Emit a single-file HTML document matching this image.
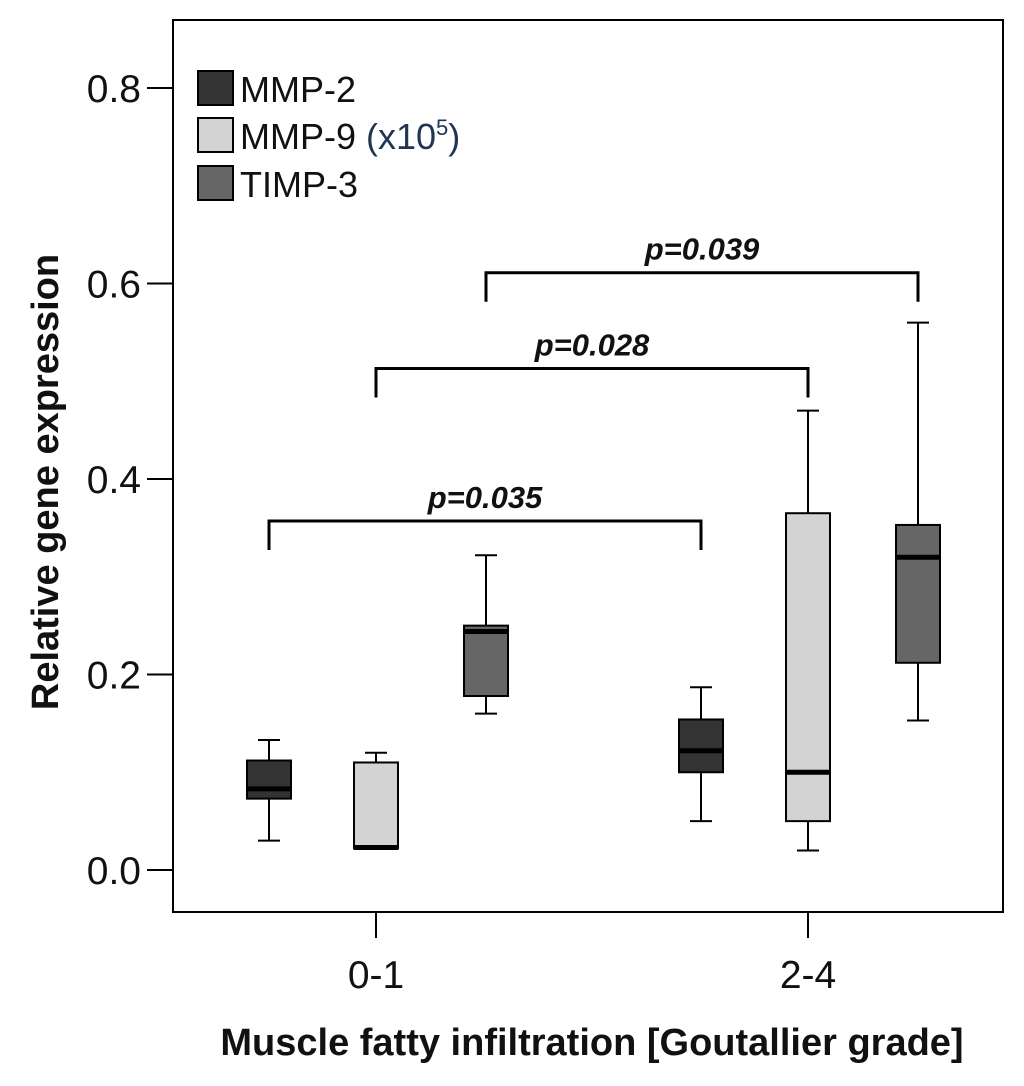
<!DOCTYPE html>
<html><head><meta charset="utf-8"><style>
html,body{margin:0;padding:0;background:#fff;}
svg{display:block;font-family:"Liberation Sans",sans-serif;}
</style></head><body>
<svg id="chart" width="1024" height="1086" viewBox="0 0 1024 1086" xmlns="http://www.w3.org/2000/svg">
<rect x="173" y="20" width="830" height="892" fill="#fff" stroke="#000" stroke-width="2"/>
<g id="yaxis"></g>
<g id="xaxis"></g>
<g id="boxes"></g>
<g id="brackets"></g>
<g>
  <rect x="198" y="71" width="35" height="34" fill="#333" stroke="#000" stroke-width="2"/>
  <text x="240" y="102" font-size="36" fill="#111">MMP-2</text>
  <rect x="198" y="118" width="35" height="34" fill="#d3d3d3" stroke="#000" stroke-width="2"/>
  <text x="240" y="149" font-size="36" fill="#111">MMP-9 <tspan fill="#1f3550">(x10<tspan font-size="22" dy="-14">5</tspan><tspan dy="14">)</tspan></tspan></text>
  <rect x="198" y="166" width="35" height="34" fill="#666" stroke="#000" stroke-width="2"/>
  <text x="240" y="197" font-size="36" fill="#111">TIMP-3</text>
</g>
<text transform="translate(58,482) rotate(-90)" text-anchor="middle" font-size="38" font-weight="bold" fill="#111">Relative gene expression</text>
<text x="592" y="1055" text-anchor="middle" font-size="38" font-weight="bold" fill="#111">Muscle fatty infiltration [Goutallier grade]</text>
</svg>
<script>
const yTicks=[0.0,0.2,0.4,0.6,0.8];
const categories=["0-1","2-4"];
const seriesNames=["MMP-2","MMP-9","TIMP-3"];
// [low whisker, Q1, median, Q3, high whisker] per category
const mmp2=[[0.03,0.073,0.083,0.112,0.133],[0.05,0.1,0.122,0.154,0.187]];
const mmp9=[[0.022,0.022,0.023,0.11,0.12],[0.02,0.05,0.1,0.365,0.47]];
const timp3=[[0.16,0.178,0.244,0.25,0.322],[0.153,0.212,0.32,0.353,0.56]];
const bracketFrom=[[0,0],[1,0],[2,0]];
const bracketTo=[[0,1],[1,1],[2,1]];
const bracketLevel=[0.357,0.513,0.611];
const bracketLabels=["p=0.035","p=0.028","p=0.039"];

const NS="http://www.w3.org/2000/svg";
const y=v=>870-v*977.5;
const catX=i=>376+i*432;
const offs=[-107,0,110];
const bx=(s,c)=>catX(c)+offs[s];
const colors=["#333","#d3d3d3","#666"];
const series=[mmp2,mmp9,timp3];
function mk(tag,attrs,parent){const e=document.createElementNS(NS,tag);for(const k in attrs)e.setAttribute(k,attrs[k]);parent.appendChild(e);return e;}

const ya=document.getElementById('yaxis');
mk('line',{x1:173,y1:y(0.8),x2:173,y2:y(0),stroke:'#000','stroke-width':2},ya);
yTicks.forEach(v=>{
  const l=mk('line',{x1:147,x2:173,y1:y(v),y2:y(v),stroke:'#000','stroke-width':2},ya);
  
  
  const t=mk('text',{x:141,y:y(v)+14,'text-anchor':'end','font-size':39,fill:'#111'},ya);
  t.textContent=v.toFixed(1);
  
  
});
const xa=document.getElementById('xaxis');
categories.forEach((c,i)=>{
  const l=mk('line',{x1:catX(i),x2:catX(i),y1:912,y2:938,stroke:'#000','stroke-width':2},xa);
  
  
  const t=mk('text',{x:catX(i),y:988,'text-anchor':'middle','font-size':39,fill:'#111'},xa);
  t.textContent=c;
  
  
});
const bg=document.getElementById('boxes');
series.forEach((ser,s)=>{
  ser.forEach((d,c)=>{
    const g=mk('g',{},bg);
    
    
    const x=bx(s,c);
    mk('line',{x1:x,x2:x,y1:y(d[0]),y2:y(d[4]),stroke:'#000','stroke-width':2},g);
    mk('line',{x1:x-11,x2:x+11,y1:y(d[0]),y2:y(d[0]),stroke:'#000','stroke-width':2},g);
    mk('line',{x1:x-11,x2:x+11,y1:y(d[4]),y2:y(d[4]),stroke:'#000','stroke-width':2},g);
    mk('rect',{x:x-22,y:y(d[3]),width:44,height:Math.max(1,y(d[1])-y(d[3])),fill:colors[s],stroke:'#000','stroke-width':2},g);
    mk('line',{x1:x-22,x2:x+22,y1:y(d[2]),y2:y(d[2]),stroke:'#000','stroke-width':5},g);
  });
});
const br=document.getElementById('brackets');
bracketLabels.forEach((lab,i)=>{
  const g=mk('g',{},br);
  
  
  const x1=bx(bracketFrom[i][0],bracketFrom[i][1]), x2=bx(bracketTo[i][0],bracketTo[i][1]);
  const yy=y(bracketLevel[i]);
  mk('path',{d:`M${x1},${yy+29}V${yy}H${x2}V${yy+29}`,fill:'none',stroke:'#000','stroke-width':3},g);
  const t=mk('text',{x:(x1+x2)/2,y:yy-13,'text-anchor':'middle','font-size':31,'font-weight':'bold','font-style':'italic',fill:'#111'},g);
  t.textContent=lab;
});
</script>
</body></html>
